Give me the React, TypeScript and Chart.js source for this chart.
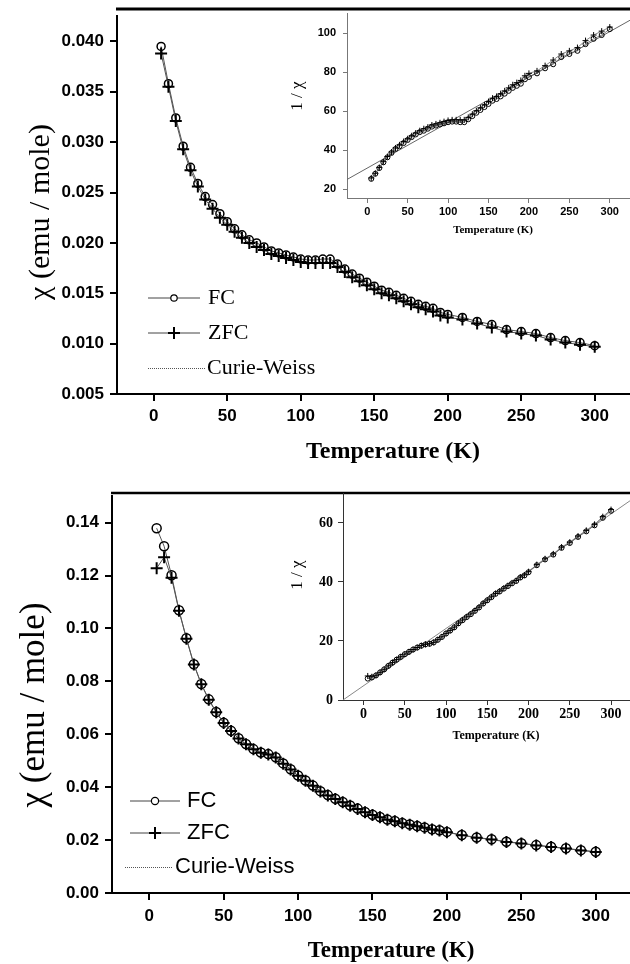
import React, { useEffect, useRef } from "react";
import { Chart, registerables } from "chart.js";

Chart.register(...registerables);

// ---------- data ----------
const temps = [5, 10, 15, 20, 25, 30, 35, 40, 45, 50, 55, 60, 65, 70, 75, 80, 85, 90, 95, 100, 105, 110, 115, 120, 125, 130, 135, 140, 145, 150, 155, 160, 165, 170, 175, 180, 185, 190, 195, 200, 210, 220, 230, 240, 250, 260, 270, 280, 290, 300];

const fcTop = [0.0395, 0.0358, 0.0324, 0.0296, 0.0275, 0.0259, 0.0246, 0.0238, 0.0229, 0.0221,
  0.0214, 0.0208, 0.0203, 0.0200, 0.0196, 0.0192, 0.0190, 0.0188, 0.0186, 0.0184,
  0.0183, 0.0183, 0.0184, 0.0184, 0.0179, 0.0174, 0.0169, 0.0165, 0.0161, 0.0157,
  0.0153, 0.0151, 0.0148, 0.0145, 0.0142, 0.0139, 0.0137, 0.0135, 0.0131, 0.0129,
  0.0126, 0.0122, 0.0119, 0.0114, 0.0112, 0.0110, 0.0106, 0.0103, 0.0101, 0.0098];

const zfcTop = [0.0388, 0.0355, 0.0321, 0.0293, 0.0272, 0.0256, 0.0243, 0.0234, 0.0225, 0.0218,
  0.0211, 0.0205, 0.0200, 0.0196, 0.0193, 0.0189, 0.0187, 0.0185, 0.0183, 0.0181,
  0.0180, 0.0180, 0.0180, 0.0180, 0.0176, 0.0171, 0.0166, 0.0162, 0.0158, 0.0154,
  0.0150, 0.0148, 0.0145, 0.0142, 0.0139, 0.0136, 0.0134, 0.0132, 0.0128, 0.0126,
  0.0124, 0.0120, 0.0116, 0.0112, 0.0110, 0.0108, 0.0104, 0.0101, 0.0099, 0.0097];

const fcBottom = [0.1379, 0.1311, 0.1201, 0.1069, 0.0963, 0.0865, 0.0790, 0.0732, 0.0684, 0.0644,
  0.0613, 0.0585, 0.0563, 0.0544, 0.0531, 0.0525, 0.0513, 0.0490, 0.0468, 0.0444,
  0.0425, 0.0406, 0.0385, 0.0370, 0.0356, 0.0344, 0.0331, 0.0319, 0.0306, 0.0296,
  0.0287, 0.0278, 0.0272, 0.0265, 0.0259, 0.0253, 0.0248, 0.0241, 0.0237, 0.0231,
  0.0219, 0.0210, 0.0203, 0.0194, 0.0188, 0.0181, 0.0175, 0.0169, 0.0162, 0.0156];

const zfcBottom = [0.1228, 0.1269, 0.1192, 0.1067, 0.0961, 0.0864, 0.0789, 0.0731, 0.0683, 0.0643,
  0.0612, 0.0584, 0.0562, 0.0543, 0.0530, 0.0524, 0.0512, 0.0489, 0.0467, 0.0443,
  0.0424, 0.0405, 0.0384, 0.0369, 0.0355, 0.0343, 0.0330, 0.0318, 0.0305, 0.0295,
  0.0286, 0.0277, 0.0271, 0.0264, 0.0258, 0.0252, 0.0247, 0.0240, 0.0236, 0.0230,
  0.0218, 0.0209, 0.0202, 0.0193, 0.0187, 0.0180, 0.0174, 0.0168, 0.0161, 0.0155];

// Curie-Weiss fit lines in the 1/χ insets (end points)
const cwTopT = [-25, 325];
const cwTopInv = [25, 106.6];
const cwBottomT = [-25, 323];
const cwBottomInv = [0, 67.5];

const xTicks = [0, 50, 100, 150, 200, 250, 300];
const yTicksTopMain = [0.005, 0.010, 0.015, 0.020, 0.025, 0.030, 0.035, 0.040];
const yTicksBottomMain = [0.00, 0.02, 0.04, 0.06, 0.08, 0.10, 0.12, 0.14];
const yTicksTopInset = [20, 40, 60, 80, 100];
const yTicksBottomInset = [0, 20, 40, 60];

const legendLabels = ["FC", "ZFC", "Curie-Weiss"];
const yTitle = "χ (emu / mole)";
const xTitle = "Temperature (K)";
const insetYTitle = "1 / χ";

// ---------- styling helpers ----------
const SANS = '"Liberation Sans", Arial, Helvetica, sans-serif';
const SERIF = '"Liberation Serif", "Times New Roman", Times, serif';

type AxisOpts = {
  min: number; max: number; ticks: number[]; fmt: (v: number) => string;
  font: any; tickLength: number; padding: number; color: string; width: number;
  fit: number; horizontal: boolean;
};

function linearAxis(o: AxisOpts) {
  return {
    type: "linear",
    position: o.horizontal ? "bottom" : "left",
    min: o.min,
    max: o.max,
    afterBuildTicks: (s: any) => { s.ticks = o.ticks.map((v) => ({ value: v })); },
    afterFit: (s: any) => { if (o.horizontal) s.height = o.fit; else s.width = o.fit; },
    grid: { display: true, drawOnChartArea: false, drawTicks: true, tickLength: o.tickLength, color: o.color, lineWidth: o.width },
    border: { display: true, color: o.color, width: o.width },
    ticks: { font: o.font, color: "#000", padding: o.padding, autoSkip: false, maxRotation: 0, callback: (v: any) => o.fmt(Number(v)) },
    title: { display: false },
  };
}

function pts(xs: number[], ys: number[], f?: (v: number) => number) {
  return xs.map((x, i) => ({ x, y: f ? f(ys[i]) : ys[i] }));
}

function drawText(ctx: CanvasRenderingContext2D, text: string, x: number, y: number, font: string, rotate = false) {
  ctx.save();
  ctx.font = font;
  ctx.fillStyle = "#000";
  ctx.textAlign = "center";
  ctx.textBaseline = "middle";
  ctx.translate(x, y);
  if (rotate) ctx.rotate(-Math.PI / 2);
  ctx.fillText(text, 0, 0);
  ctx.restore();
}

type LegendGeom = { x1: number; x2: number; mx: number; tx: number; ys: number[]; dx1: number; dx2: number; font: string; circleR: number; crossR: number };

function drawLegend(ctx: CanvasRenderingContext2D, g: LegendGeom) {
  ctx.save();
  ctx.strokeStyle = "#444";
  ctx.lineWidth = 1;
  for (let i = 0; i < 2; i++) {
    ctx.beginPath();
    ctx.moveTo(g.x1, g.ys[i]);
    ctx.lineTo(g.x2, g.ys[i]);
    ctx.stroke();
  }
  // circle
  ctx.strokeStyle = "#000";
  ctx.lineWidth = 1.2;
  ctx.fillStyle = "#fff";
  ctx.beginPath();
  ctx.arc(g.mx, g.ys[0], g.circleR, 0, Math.PI * 2);
  ctx.fill();
  ctx.stroke();
  // cross
  ctx.lineWidth = 2;
  ctx.beginPath();
  ctx.moveTo(g.mx - g.crossR, g.ys[1]);
  ctx.lineTo(g.mx + g.crossR, g.ys[1]);
  ctx.moveTo(g.mx, g.ys[1] - g.crossR);
  ctx.lineTo(g.mx, g.ys[1] + g.crossR);
  ctx.stroke();
  // dotted
  ctx.strokeStyle = "#555";
  ctx.lineWidth = 1;
  ctx.setLineDash([1, 1]);
  ctx.beginPath();
  ctx.moveTo(g.dx1, g.ys[2] + 0.5);
  ctx.lineTo(g.dx2, g.ys[2] + 0.5);
  ctx.stroke();
  ctx.setLineDash([]);
  ctx.restore();
  for (let i = 0; i < 3; i++) {
    ctx.save();
    ctx.font = g.font;
    ctx.fillStyle = "#000";
    ctx.textAlign = "left";
    ctx.textBaseline = "middle";
    ctx.fillText(legendLabels[i], i === 2 ? g.dx2 + 2 : g.tx, g.ys[i]);
    ctx.restore();
  }
}

function overlay(offsetY: number, draw: (ctx: CanvasRenderingContext2D) => void) {
  return {
    id: "overlay",
    afterDraw(chart: any) {
      const ctx = chart.ctx as CanvasRenderingContext2D;
      ctx.save();
      ctx.translate(0, -offsetY);
      draw(ctx);
      ctx.restore();
    },
  };
}

function baseOptions(padTop: number, scales: any) {
  return {
    animation: false,
    responsive: false,
    devicePixelRatio: 1,
    events: [],
    layout: { autoPadding: false, padding: { left: 0, top: padTop, right: 0, bottom: 0 } },
    plugins: { legend: { display: false }, tooltip: { enabled: false } },
    scales,
  };
}

function mainDatasets(fc: number[], zfc: number[], circleR: number, crossR: number) {
  return [
    {
      label: "ZFC", data: pts(temps, zfc), borderColor: "#555", borderWidth: 1,
      pointStyle: "cross", pointRadius: crossR, pointBorderColor: "#000", pointBorderWidth: 2,
      pointBackgroundColor: "#000", tension: 0, fill: false, order: 0,
    },
    {
      label: "FC", data: pts(temps, fc), borderColor: "#555", borderWidth: 1,
      pointStyle: "circle", pointRadius: circleR, pointBorderColor: "#000", pointBorderWidth: 1.5,
      pointBackgroundColor: "rgba(255,255,255,0)", tension: 0, fill: false, order: 1,
    },
  ];
}

function insetDatasets(fc: number[], zfc: number[], cwT: number[], cwV: number[], cwColor: string) {
  return [
    {
      label: "Curie-Weiss", data: pts(cwT, cwV), borderColor: cwColor, borderWidth: 1,
      pointRadius: 0, tension: 0, fill: false, order: 2,
    },
    {
      label: "ZFC", data: pts(temps, zfc, (v) => 1 / v), borderColor: "#666", borderWidth: 0.8,
      pointStyle: "cross", pointRadius: 3, pointBorderColor: "#000", pointBorderWidth: 1,
      tension: 0, fill: false, order: 0,
    },
    {
      label: "FC", data: pts(temps, fc, (v) => 1 / v), borderColor: "#666", borderWidth: 0.8,
      pointStyle: "circle", pointRadius: 2.5, pointBorderColor: "#000", pointBorderWidth: 1,
      pointBackgroundColor: "rgba(255,255,255,0)", tension: 0, fill: false, order: 1,
    },
  ];
}

function topMainConfig(): any {
  return {
    type: "line",
    data: { datasets: mainDatasets(fcTop, zfcTop, 4, 6) },
    options: baseOptions(9, {
      x: linearAxis({ min: -25, max: 324, ticks: xTicks, fmt: (v) => String(v), font: { family: SANS, size: 17, weight: "bold" }, tickLength: 7, padding: 5, color: "#000", width: 2, fit: 86, horizontal: true }),
      y: linearAxis({ min: 0.005, max: 0.0425, ticks: yTicksTopMain, fmt: (v) => v.toFixed(3), font: { family: SANS, size: 17, weight: "bold" }, tickLength: 7, padding: 6, color: "#000", width: 2, fit: 117, horizontal: false }),
    }),
    plugins: [overlay(0, (ctx) => {
      ctx.save();
      ctx.strokeStyle = "#000";
      ctx.lineWidth = 3;
      ctx.beginPath();
      ctx.moveTo(116, 9);
      ctx.lineTo(630, 9);
      ctx.stroke();
      ctx.restore();
      drawText(ctx, yTitle, 41, 212, `30px ${SERIF}`, true);
      drawText(ctx, xTitle, 393, 452, `bold 24px ${SERIF}`);
      drawLegend(ctx, { x1: 148, x2: 200, mx: 174, tx: 208, ys: [298, 333, 368], dx1: 148, dx2: 205, font: `22px ${SERIF}`, circleR: 3.2, crossR: 6 });
    })],
  };
}

function topInsetConfig(): any {
  return {
    type: "line",
    data: { datasets: insetDatasets(fcTop, zfcTop, cwTopT, cwTopInv, "#666") },
    options: baseOptions(9, {
      x: linearAxis({ min: -25, max: 325, ticks: xTicks, fmt: (v) => String(v), font: { family: SANS, size: 11, weight: "bold" }, tickLength: 4, padding: 2, color: "#777", width: 1, fit: 281, horizontal: true }),
      y: linearAxis({ min: 15, max: 110, ticks: yTicksTopInset, fmt: (v) => String(v), font: { family: SANS, size: 11, weight: "bold" }, tickLength: 4, padding: 7, color: "#777", width: 1, fit: 347, horizontal: false }),
    }),
    plugins: [overlay(0, (ctx) => {
      drawText(ctx, insetYTitle, 298, 96, `17px ${SERIF}`, true);
      drawText(ctx, xTitle, 493, 230, `bold 11px ${SERIF}`);
    })],
  };
}

function bottomMainConfig(): any {
  return {
    type: "line",
    data: { datasets: mainDatasets(fcBottom, zfcBottom, 4.5, 6) },
    options: baseOptions(13, {
      x: linearAxis({ min: -25, max: 323, ticks: xTicks, fmt: (v) => String(v), font: { family: SANS, size: 17, weight: "bold" }, tickLength: 7, padding: 6, color: "#000", width: 2, fit: 71, horizontal: true }),
      y: linearAxis({ min: 0, max: 0.15, ticks: yTicksBottomMain, fmt: (v) => v.toFixed(2), font: { family: SANS, size: 17, weight: "bold" }, tickLength: 7, padding: 6, color: "#000", width: 2, fit: 112, horizontal: false }),
    }),
    plugins: [overlay(480, (ctx) => {
      ctx.save();
      ctx.strokeStyle = "#000";
      ctx.lineWidth = 2.5;
      ctx.beginPath();
      ctx.moveTo(111, 493);
      ctx.lineTo(630, 493);
      ctx.stroke();
      ctx.restore();
      drawText(ctx, yTitle, 35, 705, `35px ${SERIF}`, true);
      drawText(ctx, xTitle, 391, 951, `bold 23px ${SERIF}`);
      drawLegend(ctx, { x1: 130, x2: 180, mx: 155, tx: 187, ys: [801, 833, 867], dx1: 125, dx2: 173, font: `22px ${SANS}`, circleR: 3.6, crossR: 6 });
    })],
  };
}

function bottomInsetConfig(): any {
  return {
    type: "line",
    data: { datasets: insetDatasets(fcBottom, zfcBottom, cwBottomT, cwBottomInv, "#888") },
    options: baseOptions(13, {
      x: linearAxis({ min: -25, max: 323, ticks: xTicks, fmt: (v) => String(v), font: { family: SERIF, size: 14, weight: "bold" }, tickLength: 5, padding: 1, color: "#333", width: 1, fit: 264, horizontal: true }),
      y: linearAxis({ min: 0, max: 70, ticks: yTicksBottomInset, fmt: (v) => String(v), font: { family: SERIF, size: 14, weight: "bold" }, tickLength: 5, padding: 5, color: "#333", width: 1, fit: 343, horizontal: false }),
    }),
    plugins: [overlay(480, (ctx) => {
      drawText(ctx, insetYTitle, 298, 575, `17px ${SERIF}`, true);
      drawText(ctx, xTitle, 496, 736, `bold 12px ${SERIF}`);
    })],
  };
}

export default function App() {
  const r1 = useRef<HTMLCanvasElement>(null);
  const r2 = useRef<HTMLCanvasElement>(null);
  const r3 = useRef<HTMLCanvasElement>(null);
  const r4 = useRef<HTMLCanvasElement>(null);

  useEffect(() => {
    const charts = [
      new Chart(r1.current as HTMLCanvasElement, topMainConfig()),
      new Chart(r2.current as HTMLCanvasElement, topInsetConfig()),
      new Chart(r3.current as HTMLCanvasElement, bottomMainConfig()),
      new Chart(r4.current as HTMLCanvasElement, bottomInsetConfig()),
    ];
    return () => charts.forEach((c) => c.destroy());
  }, []);

  const cv = (top: number, h: number): React.CSSProperties => ({ position: "absolute", left: 0, top, width: 630, height: h });

  return (
    <div style={{ position: "absolute", left: 0, top: 0, width: 630, height: 964, overflow: "hidden", background: "#fff" }}>
      <canvas ref={r1} width={630} height={480} style={cv(0, 480)} />
      <canvas ref={r2} width={630} height={480} style={cv(0, 480)} />
      <canvas ref={r3} width={630} height={484} style={cv(480, 484)} />
      <canvas ref={r4} width={630} height={484} style={cv(480, 484)} />
    </div>
  );
}
